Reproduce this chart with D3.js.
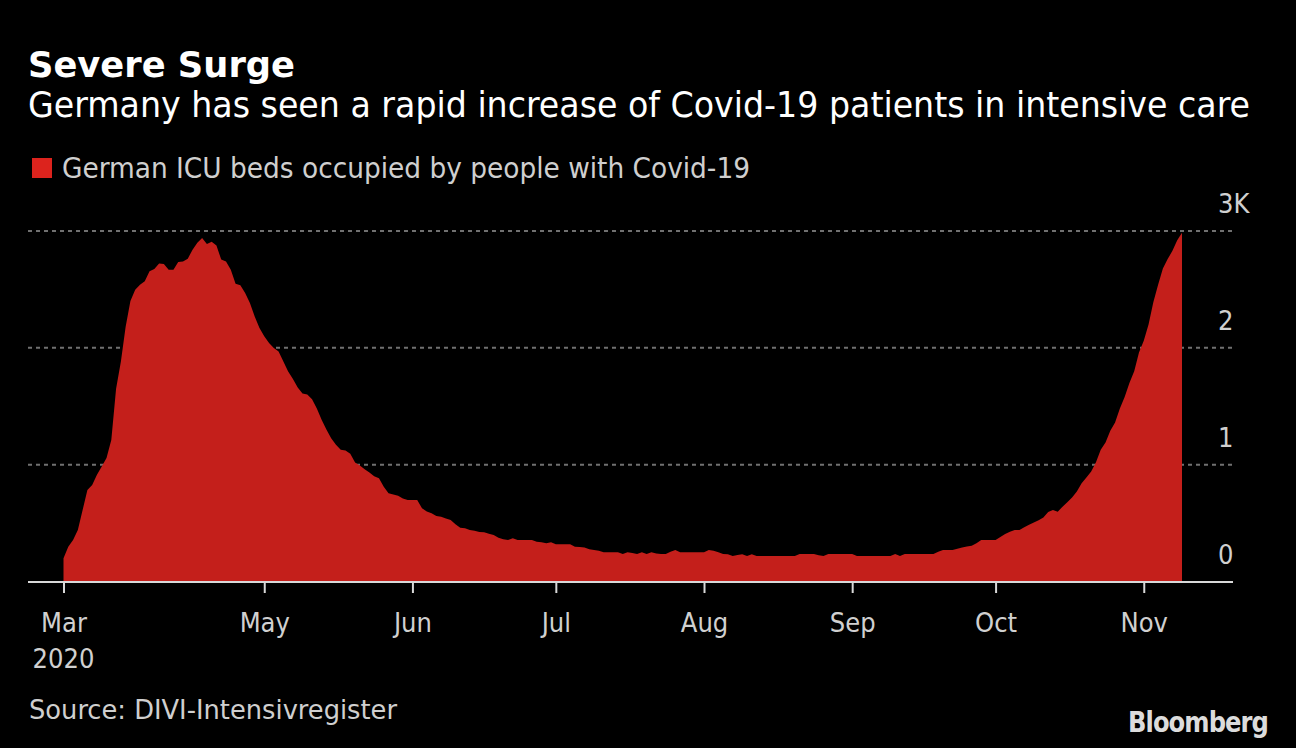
<!DOCTYPE html>
<html>
<head>
<meta charset="utf-8">
<script src="https://cdn.jsdelivr.net/npm/d3@7"></script>
<style>
  html, body { margin: 0; padding: 0; background: #000; }
  svg { display: block; }
  text { font-family: "DejaVu Sans Condensed", "DejaVu Sans", sans-serif; }
</style>
</head>
<body>
<svg id="chart" width="1296" height="748"></svg>
<script>
// ---- Data ----
const title = "Severe Surge";
const subtitle = "Germany has seen a rapid increase of Covid-19 patients in intensive care";
const legendLabel = "German ICU beds occupied by people with Covid-19";
const sourceText = "Source: DIVI-Intensivregister";
const startDate = "2020-03-20"; // first daily observation
// daily ICU beds occupied (Mar 20 – Nov 9, 2020)
const icuBeds = [
  199,298,356,441,613,784,827,913,984,1056,
  1212,1650,1880,2180,2400,2498,2540,2569,2655,2675,
  2721,2718,2669,2669,2735,2740,2763,2840,2900,2941,
  2889,2907,2875,2755,2740,2669,2549,2535,2469,2384,
  2269,2170,2100,2041,1998,1969,1883,1798,1733,1660,
  1610,1600,1560,1480,1384,1300,1227,1170,1127,1121,
  1093,1018,992,960,932,900,884,812,756,745,
  733,710,698,698,698,627,600,584,561,555,
  540,527,490,461,456,441,435,424,422,408,
  398,375,362,356,370,356,356,356,356,341,
  335,327,336,319,319,319,319,298,295,290,
  276,270,264,250,250,250,250,236,250,245,
  236,250,236,250,240,236,236,255,270,250,
  250,250,250,250,250,270,264,250,236,233,
  219,226,233,219,233,219,219,219,219,219,
  219,219,219,219,236,236,236,236,225,219,
  236,236,236,236,236,236,219,219,219,219,
  219,219,219,219,236,219,236,236,236,236,
  236,236,236,255,270,270,270,280,290,300,
  307,327,356,356,356,356,380,407,425,441,
  441,465,485,504,525,547,595,613,598,640,
  679,720,770,840,890,941,1020,1127,1190,1290,
  1360,1480,1580,1698,1800,1960,2060,2200,2390,2540,
  2680,2760,2830,2920,2984
];
const xTickDates = ["2020-03-20","2020-05-01","2020-06-01","2020-07-01","2020-08-01","2020-09-01","2020-10-01","2020-11-01"];
const xTickLabels = ["Mar","May","Jun","Jul","Aug","Sep","Oct","Nov"];
const yTicks = [0, 1000, 2000, 3000];
const yTickLabels = ["0", "1", "2", "3K"];

// ---- Setup ----
const parse = d3.utcParse("%Y-%m-%d");
const t0 = parse(startDate);
const data = icuBeds.map((v, i) => ({ date: d3.utcDay.offset(t0, i), value: v }));

const svg = d3.select("#chart");
svg.append("rect").attr("width", 1296).attr("height", 748).attr("fill", "#000");

const plotLeft = 28, plotRight = 1233;
const x = d3.scaleUtc()
  .domain([data[0].date, data[data.length - 1].date])
  .range([63.5, 1182]);
const y = d3.scaleLinear().domain([0, 3000]).range([581.5, 231]);

function fit(sel, w) {
  sel.attr("textLength", w).attr("lengthAdjust", "spacingAndGlyphs");
  return sel;
}

// Titles
fit(svg.append("text").attr("x", 28).attr("y", 77)
  .attr("font-size", 36).attr("font-weight", "bold").attr("fill", "#fff")
  .attr("font-family", "'DejaVu Sans', sans-serif")
  .text(title), 267);
fit(svg.append("text").attr("x", 28).attr("y", 117)
  .attr("font-size", 35).attr("fill", "#fff")
  .text(subtitle), 1222);

// Legend
svg.append("rect").attr("x", 32).attr("y", 158).attr("width", 20).attr("height", 20).attr("fill", "#dc231d");
fit(svg.append("text").attr("x", 62).attr("y", 178)
  .attr("font-size", 28).attr("fill", "#cfcfcf")
  .text(legendLabel), 688);

// Gridlines
svg.append("g").selectAll("line").data(yTicks.filter(d => d > 0)).join("line")
  .attr("x1", plotLeft).attr("x2", plotRight)
  .attr("y1", d => y(d)).attr("y2", d => y(d))
  .attr("stroke", "#707070").attr("stroke-width", 2).attr("stroke-dasharray", "4,4");

// Area
const area = d3.area().x(d => x(d.date)).y0(y(0)).y1(d => y(d.value)).curve(d3.curveLinear);
svg.append("path").datum(data).attr("d", area).attr("fill", "#c41f1b");

// Y labels
svg.append("g").selectAll("text").data(yTicks).join("text")
  .attr("x", 1218).attr("y", d => y(d) - 18)
  .attr("font-size", 27).attr("fill", "#d0d0d0")
  .text((d, i) => yTickLabels[i]);

// Baseline
svg.append("line").attr("x1", plotLeft).attr("x2", plotRight)
  .attr("y1", 582).attr("y2", 582).attr("stroke", "#d8d8d8").attr("stroke-width", 2);

// X axis
const xAxis = d3.axisBottom(x)
  .tickValues(xTickDates.map(parse))
  .tickSize(11)
  .tickPadding(26)
  .tickFormat((d, i) => xTickLabels[i]);
const gx = svg.append("g").attr("transform", "translate(0,582)").call(xAxis);
gx.select(".domain").remove();
gx.selectAll(".tick line").attr("stroke", "#d8d8d8").attr("stroke-width", 2);
gx.selectAll(".tick text")
  .attr("font-size", 27).attr("fill", "#d0d0d0")
  .attr("font-family", "'DejaVu Sans Condensed', 'DejaVu Sans', sans-serif")
  .attr("dy", null).attr("y", 50);
gx.append("text").attr("x", x(parse(startDate))).attr("y", 86)
  .attr("text-anchor", "middle").attr("font-size", 27).attr("fill", "#d0d0d0")
  .attr("font-family", "'DejaVu Sans Condensed', 'DejaVu Sans', sans-serif")
  .text("2020");

// Source
fit(svg.append("text").attr("x", 29).attr("y", 719)
  .attr("font-size", 26).attr("fill", "#cfcfcf")
  .text(sourceText), 368);

// Bloomberg
fit(svg.append("text").attr("x", 1128).attr("y", 732)
  .attr("font-size", 29).attr("font-weight", "bold").attr("fill", "#dcdcdc")
  .attr("font-family", "'Liberation Sans', Arial, sans-serif")
  .attr("letter-spacing", -1)
  .text("Bloomberg"), 140);
</script>
</body>
</html>
